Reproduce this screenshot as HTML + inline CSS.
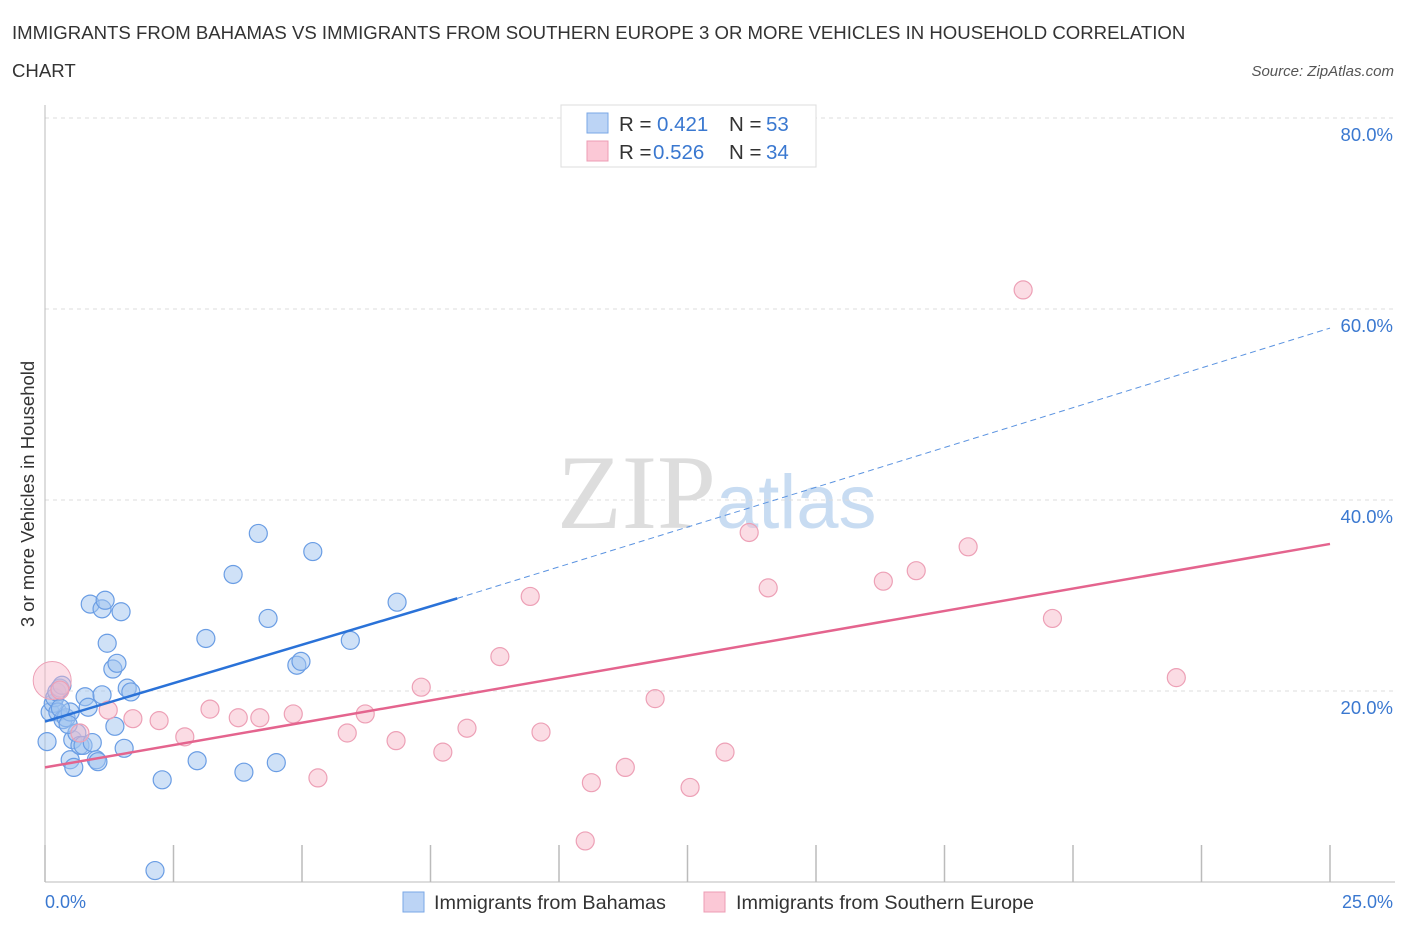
<!DOCTYPE html>
<html><head><meta charset="utf-8"><style>
body{margin:0;background:#fff;font-family:"Liberation Sans",sans-serif;}
svg text{font-family:"Liberation Sans",sans-serif;}
</style></head><body>
<svg id="chart" width="1406" height="930" viewBox="0 0 1406 930">
<text x="12" y="39" font-size="18.6" fill="#333">IMMIGRANTS FROM BAHAMAS VS IMMIGRANTS FROM SOUTHERN EUROPE 3 OR MORE VEHICLES IN HOUSEHOLD CORRELATION</text>
<text x="12" y="77" font-size="18.6" fill="#333">CHART</text>
<text x="1394" y="76" font-size="15" fill="#555" font-style="italic" text-anchor="end">Source: ZipAtlas.com</text>
<text x="716" y="528" font-size="106" fill="#ddd" text-anchor="end" style="font-family:'Liberation Serif',serif">ZIP</text>
<text x="716" y="528" font-size="76" fill="#c8dcf2">atlas</text>
<g id="grid"></g>
<g id="axes"></g>
<g id="pts"></g>
<g id="lines"></g>
<text transform="translate(34,494) rotate(-90)" font-size="18.5" fill="#333" text-anchor="middle">3 or more Vehicles in Household</text>
<text x="45" y="908" font-size="18" fill="#3a78d0">0.0%</text>
<text x="1393" y="908" font-size="18" fill="#3a78d0" text-anchor="end">25.0%</text>
<g>
<rect x="561" y="105" width="255" height="62" fill="#fff" stroke="#ddd"/>
<rect x="587" y="113" width="21" height="20" fill="#bcd4f5" stroke="#7aa7e6"/>
<rect x="587" y="141" width="21" height="20" fill="#fbc8d6" stroke="#ec9cb4"/>
<text x="619" y="131" font-size="20.5" fill="#333">R = </text><text x="657" y="131" font-size="20.5" fill="#3a78d0">0.421</text>
<text x="729" y="131" font-size="20.5" fill="#333">N = </text><text x="766" y="131" font-size="20.5" fill="#3a78d0">53</text>
<text x="619" y="159" font-size="20.5" fill="#333">R = </text><text x="653" y="159" font-size="20.5" fill="#3a78d0">0.526</text>
<text x="729" y="159" font-size="20.5" fill="#333">N = </text><text x="766" y="159" font-size="20.5" fill="#3a78d0">34</text>
</g>
<g>
<rect x="403" y="892" width="21" height="20" fill="#bcd4f5" stroke="#7aa7e6"/>
<text x="434" y="909" font-size="19.8" fill="#333">Immigrants from Bahamas</text>
<rect x="704" y="892" width="21" height="20" fill="#fbc8d6" stroke="#ec9cb4"/>
<text x="736" y="909" font-size="19.8" fill="#333">Immigrants from Southern Europe</text>
</g>
</svg>
<script>
const yTicks=[20,40,60,80];
const yTickLabels=["20.0%","40.0%","60.0%","80.0%"];
const blueX=[0.04,0.1,0.16,0.19,0.23,0.29,0.33,0.25,0.35,0.41,0.49,0.49,0.56,0.54,0.62,0.68,0.74,0.78,0.84,0.88,0.92,1.0,1.03,1.11,1.17,1.21,1.32,1.40,1.36,1.48,1.54,1.60,1.67,1.11,2.28,2.14,2.96,3.13,3.66,3.87,4.15,4.34,4.50,4.90,4.98,5.21,5.94,6.85,0.45,0.3];
const blueY=[14.7,17.8,18.7,19.3,19.9,20.3,20.6,17.8,17.0,17.2,17.8,12.8,12.0,14.9,15.6,14.3,14.3,19.4,18.3,29.1,14.6,12.8,12.6,28.6,29.5,25.0,22.3,22.9,16.3,28.3,14.0,20.3,19.9,19.6,10.7,1.2,12.7,25.5,32.2,11.5,36.5,27.6,12.5,22.7,23.1,34.6,25.3,29.3,16.5,18.2];
const pinkX=[0.29,0.68,1.23,1.71,2.22,2.72,3.21,3.76,4.18,4.83,5.31,5.88,6.23,6.83,7.32,7.74,8.21,8.85,9.44,9.65,10.51,10.63,11.29,11.87,12.55,13.23,13.70,14.07,16.31,16.95,17.96,19.03,19.60,22.01];
const pinkY=[20.1,15.6,18.0,17.1,16.9,15.2,18.1,17.2,17.2,17.6,10.9,15.6,17.6,14.8,20.4,13.6,16.1,23.6,29.9,15.7,4.3,10.4,12.0,19.2,9.9,13.6,36.6,30.8,31.5,32.6,35.1,62.0,27.6,21.4];
const blueTrend=[[0,16.8],[8.02,29.7],[25,58.0]];
const pinkTrend=[[0,12.0],[25,35.4]];
const X0=45,X1=1330,Y0=882,YS=9.55;
const sx=v=>X0+(v/25)*(X1-X0), sy=v=>Y0-v*YS;
const NS="http://www.w3.org/2000/svg";
function mk(t,a,p){const e=document.createElementNS(NS,t);for(const k in a)e.setAttribute(k,a[k]);p.appendChild(e);return e;}
const grid=document.getElementById('grid'),axes=document.getElementById('axes'),pts=document.getElementById('pts'),lines=document.getElementById('lines');
yTicks.forEach((t,i)=>{
 const l=mk('line',{x1:X0,x2:1395,y1:sy(t),y2:sy(t),stroke:'#ddd','stroke-dasharray':'4,4'},grid);
 
 
 const tx=mk('text',{x:1393,y:sy(t)+23,'font-size':18.5,fill:'#3a78d0','text-anchor':'end'},grid);
 tx.textContent=yTickLabels[i];
 
 
});
const ax=mk('line',{x1:X0,x2:X0,y1:105,y2:Y0,stroke:'#bbb'},axes);


const bx=mk('line',{x1:X0,x2:X1+65,y1:Y0,y2:Y0,stroke:'#bbb'},axes);


for(let i=0;i<=10;i++){
 const tk=mk('line',{x1:sx(i*2.5),x2:sx(i*2.5),y1:845,y2:Y0,stroke:'#bbb','stroke-width':1.5},axes);
 
 
}
blueX.forEach((x,i)=>{
 const c=mk('circle',{cx:sx(x),cy:sy(blueY[i]),r:9,fill:'rgba(160,195,240,0.5)',stroke:'#6a9de4','stroke-width':1.2},pts);
 
 
});
const big=mk('circle',{cx:sx(0.14),cy:sy(21.1),r:19,fill:'rgba(248,185,202,0.45)',stroke:'#eda0b6'},pts);


pinkX.forEach((x,i)=>{
 const c=mk('circle',{cx:sx(x),cy:sy(pinkY[i]),r:9,fill:'rgba(248,185,202,0.5)',stroke:'#eda0b6','stroke-width':1.2},pts);
 
 
});
const b1=mk('line',{x1:sx(blueTrend[0][0]),y1:sy(blueTrend[0][1]),x2:sx(blueTrend[1][0]),y2:sy(blueTrend[1][1]),stroke:'#2a72d8','stroke-width':2.5},lines);


const b2=mk('line',{x1:sx(blueTrend[1][0]),y1:sy(blueTrend[1][1]),x2:sx(blueTrend[2][0]),y2:sy(blueTrend[2][1]),stroke:'#5b93e0','stroke-width':1,'stroke-dasharray':'6,4'},lines);


const p1=mk('line',{x1:sx(pinkTrend[0][0]),y1:sy(pinkTrend[0][1]),x2:sx(pinkTrend[1][0]),y2:sy(pinkTrend[1][1]),stroke:'#e4648e','stroke-width':2.5},lines);


</script>
</body></html>
